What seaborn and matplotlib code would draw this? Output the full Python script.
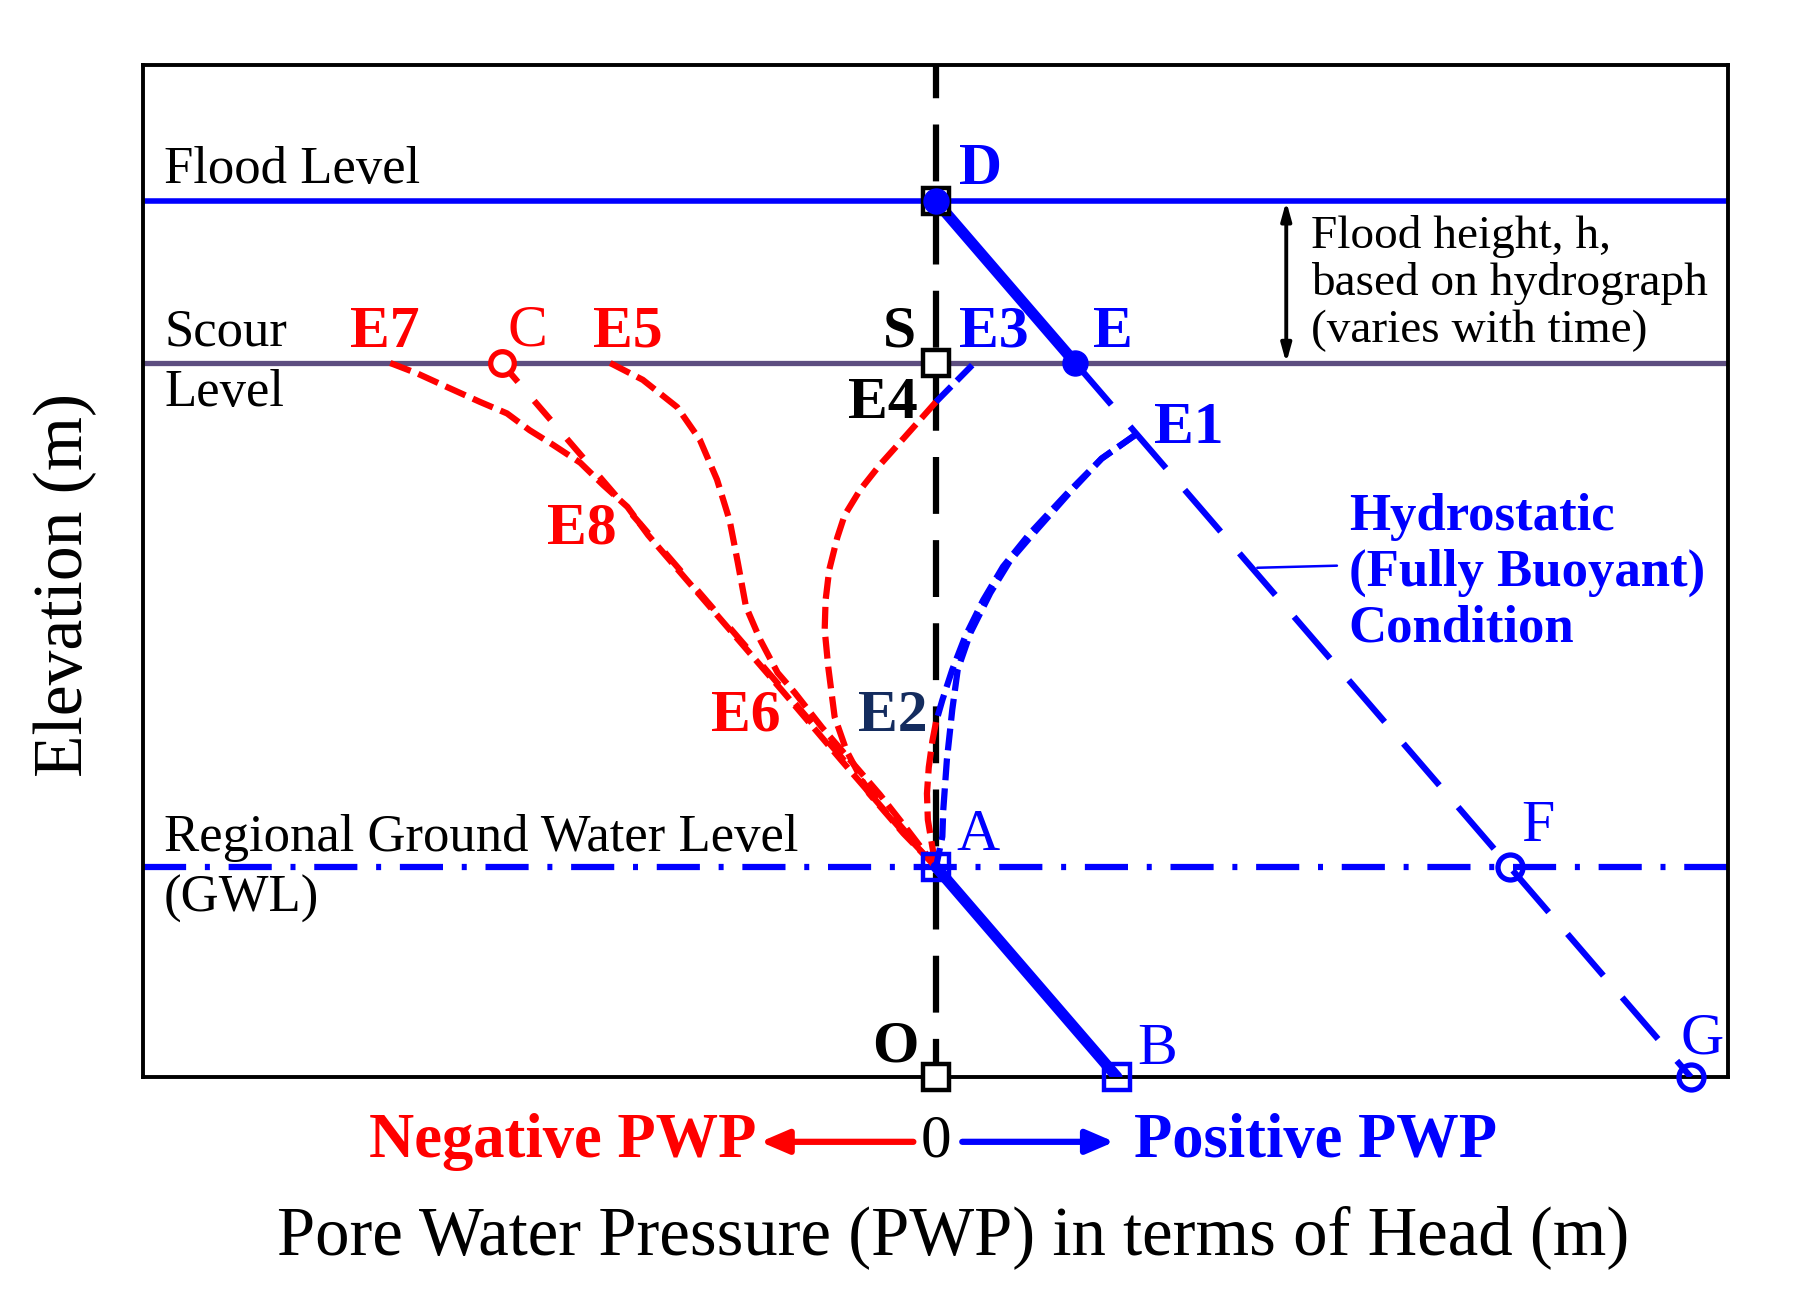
import numpy as np
import pandas as pd
import matplotlib
matplotlib.use('Agg')
import matplotlib.pyplot as plt
import seaborn as sns

# ---- levels (m) ----
flood_level = 8.34
scour_level = 6.8
gwl_level = 2.0

# ---- hydrostatic (fully buoyant) line: D - E - F - G ----
hydro_x = [0.0, 1.54, 6.34, 8.34]
hydro_y = [8.34, 6.8, 2.0, 0.0]

# ---- A - B (below GWL) ----
ab_x = [0.0, 2.0]
ab_y = [2.0, 0.0]

# ---- C - A (negative hydrostatic) ----
ca_x = [-4.8, 0.0]
ca_y = [6.8, 2.0]

# ---- PWP profiles ----
e1_x = [2.21, 1.83, 1.46, 1.07, 0.82, 0.60, 0.38, 0.24, 0.18, 0.12, 0.08, 0.07, 0.0]
e1_y = [6.12, 5.89, 5.55, 5.17, 4.92, 4.61, 4.23, 3.88, 3.50, 3.02, 2.54, 2.29, 2.0]

e2_blue_x = [2.21, 1.83, 1.44, 1.03, 0.74, 0.52, 0.32, 0.18, 0.07, 0.0]
e2_blue_y = [6.12, 5.89, 5.55, 5.17, 4.86, 4.54, 4.19, 3.88, 3.59, 3.38]
e2_red_x = [0.0, -0.04, -0.08, -0.10, -0.09, -0.04, 0.0]
e2_red_y = [3.38, 3.20, 2.95, 2.70, 2.45, 2.19, 2.0]

e3_x = [0.40, 0.0]
e3_y = [6.78, 6.43]

e4_x = [0.0, -0.34, -0.62, -0.84, -1.01, -1.09, -1.18, -1.22, -1.23, -1.19, -1.12, -0.99, -0.74, -0.36, 0.0]
e4_y = [6.43, 6.10, 5.83, 5.59, 5.35, 5.14, 4.83, 4.54, 4.26, 3.90, 3.43, 3.11, 2.70, 2.32, 2.0]

e5_x = [-3.60, -3.24, -2.86, -2.61, -2.42, -2.28, -2.19, -2.10, -1.94, -1.75, -1.56, -1.26, -0.95, -0.62, -0.31, 0.0]
e5_y = [6.8, 6.64, 6.38, 6.07, 5.69, 5.30, 4.90, 4.48, 4.16, 3.85, 3.66, 3.33, 3.02, 2.69, 2.35, 2.0]

e7_x = [-6.03, -5.73, -5.40, -5.04, -4.74, -4.49, -4.23, -3.93, -3.68, -3.41, -3.18, -2.94, -2.31, -1.68, -1.05, -0.38, 0.0]
e7_y = [6.8, 6.70, 6.57, 6.43, 6.32, 6.16, 6.02, 5.85, 5.64, 5.43, 5.16, 4.92, 4.29, 3.66, 3.02, 2.35, 2.0]

# ---- marked points ----
black_sq_x = [0.0, 0.0, 0.0]        # D, S, O
black_sq_y = [8.34, 6.8, 0.0]
blue_sq_x = [0.0, 2.0]              # A, B
blue_sq_y = [2.0, 0.0]
blue_dot_x = [0.0, 1.54]            # D, E
blue_dot_y = [8.34, 6.8]
blue_ring_x = [6.34, 8.34]          # F, G
blue_ring_y = [2.0, 0.0]
red_ring_x = [-4.8]                 # C
red_ring_y = [6.8]

BLUE = '#0000ff'
RED = '#ff0000'
NAVY = '#142c5e'
PURPLE = '#5d4e80'

sns.set_theme(style='white')
plt.rcParams['font.family'] = ['Liberation Serif', 'DejaVu Serif']
plt.rcParams['text.color'] = 'black'

fig = plt.figure(figsize=(18, 13), dpi=100)
ax = fig.add_axes([0.0797, 0.1715, 0.8803, 0.7785])


def curve(x, y, color, lw, dash, z=3):
    sns.lineplot(x=x, y=y, sort=False, estimator=None, color=color,
                 linewidth=lw, linestyle=(0, dash), ax=ax, zorder=z)


# reference levels
ax.axhline(flood_level, color=BLUE, lw=4.0, zorder=2)
ax.axhline(scour_level, color=PURPLE, lw=3.8, zorder=2)
ax.axhline(gwl_level, color=BLUE, lw=4.5, linestyle=(0, (6.9, 3.0, 0.8, 3.0)), zorder=2)
ax.axvline(0, color='black', lw=4.5, linestyle=(3, (9.1, 4.2)), zorder=2)

# hydrostatic
sns.lineplot(x=hydro_x[:2], y=hydro_y[:2], sort=False, estimator=None,
             color=BLUE, linewidth=8.0, ax=ax, zorder=4)
curve(hydro_x[1:], hydro_y[1:], BLUE, 4.5, (8.8, 4.6))
sns.lineplot(x=ab_x, y=ab_y, sort=False, estimator=None,
             color=BLUE, linewidth=8.0, ax=ax, zorder=4)

# profiles
curve(ca_x, ca_y, RED, 4.5, (4.0, 4.0))
curve(e7_x, e7_y, RED, 4.5, (3.5, 1.3))
curve(e5_x, e5_y, RED, 4.5, (3.5, 1.3))
curve(e4_x, e4_y, RED, 4.5, (3.5, 1.3))
curve(e2_red_x, e2_red_y, RED, 4.5, (3.5, 1.3))
curve(e1_x, e1_y, BLUE, 4.5, (3.5, 1.3))
curve(e2_blue_x, e2_blue_y, BLUE, 4.5, (3.5, 1.3))
curve(e3_x, e3_y, BLUE, 4.5, (3.5, 1.3))

# markers
mk = dict(linestyle='none', clip_on=False, zorder=6)
ax.plot(black_sq_x, black_sq_y, marker='s', ms=19, mfc='white', mec='black', mew=3.2, **mk)
ax.plot(blue_sq_x, blue_sq_y, marker='s', ms=19, mfc='none', mec=BLUE, mew=3.2, **mk)
ax.plot(blue_dot_x, blue_dot_y, marker='o', ms=18, mfc=BLUE, mec=BLUE, mew=1, **mk)
ax.plot(blue_ring_x, blue_ring_y, marker='o', ms=18, mfc='none', mec=BLUE, mew=3.8, **mk)
ax.plot(red_ring_x, red_ring_y, marker='o', ms=17, mfc='white', mec=RED, mew=3.8, **mk)

# point labels
pt_labels = [
    ('D', 0.25, 8.64, BLUE, 'bold', 'left'),
    ('E', 1.73, 7.09, BLUE, 'bold', 'left'),
    ('E1', 2.41, 6.17, BLUE, 'bold', 'left'),
    ('E3', 0.25, 7.09, BLUE, 'bold', 'left'),
    ('S', -0.22, 7.09, 'black', 'bold', 'right'),
    ('E4', -0.20, 6.41, 'black', 'bold', 'right'),
    ('E7', -6.09, 7.09, RED, 'bold', 'center'),
    ('C', -4.51, 7.10, RED, 'normal', 'center'),
    ('E5', -3.40, 7.09, RED, 'bold', 'center'),
    ('E8', -3.91, 5.21, RED, 'bold', 'center'),
    ('E6', -2.10, 3.43, RED, 'bold', 'center'),
    ('E2', -0.48, 3.43, NAVY, 'bold', 'center'),
    ('A', 0.22, 2.30, BLUE, 'normal', 'left'),
    ('F', 6.65, 2.38, BLUE, 'normal', 'center'),
    ('G', 8.46, 0.36, BLUE, 'normal', 'center'),
    ('B', 2.44, 0.26, BLUE, 'normal', 'center'),
    ('O', -0.45, 0.28, 'black', 'bold', 'center'),
]
for s, x, y, c, w, ha in pt_labels:
    ax.text(x, y, s, color=c, fontsize=43, fontweight=w, ha=ha, va='center', zorder=7)

# level names
ax.text(-8.53, 8.64, 'Flood Level', fontsize=38, ha='left', va='center')
ax.text(-8.53, 7.09, 'Scour', fontsize=38, ha='left', va='center')
ax.text(-8.53, 6.51, 'Level', fontsize=38, ha='left', va='center')
ax.text(-8.53, 2.28, 'Regional Ground Water Level', fontsize=38, ha='left', va='center')
ax.text(-8.53, 1.70, '(GWL)', fontsize=38, ha='left', va='center')

# flood height
ax.annotate('', xy=(3.87, flood_level), xytext=(3.87, scour_level),
            arrowprops=dict(arrowstyle='<|-|>,head_length=0.9,head_width=0.25',
                            color='black', lw=2.8, shrinkA=0, shrinkB=0))
ax.text(4.14, 7.56, 'Flood height, h,\nbased on hydrograph\n(varies with time)',
        fontsize=34, ha='left', va='center', linespacing=1.13)

# hydrostatic note
ax.plot([3.55, 4.43], [4.85, 4.87], color=BLUE, lw=1.8)
ax.text(4.56, 4.80, 'Hydrostatic\n(Fully Buoyant)\nCondition', color=BLUE,
        fontsize=38, fontweight='bold', ha='left', va='center', linespacing=1.2)

ax.set_xlim(-8.757, 8.751)
ax.set_ylim(0, 9.638)
ax.set_xticks([])
ax.set_yticks([])
ax.set_xlabel('')
ax.set_ylabel('')
for sp in ax.spines.values():
    sp.set_visible(True)
    sp.set_color('black')
    sp.set_linewidth(2.8)

# below-axis annotations
tr = ax.get_xaxis_transform()
ax.text(0, -0.064, '0', transform=tr, fontsize=44, ha='center', va='center')
ax.annotate('', xy=(-1.94, -0.064), xytext=(-0.25, -0.064), xycoords=tr, textcoords=tr,
            arrowprops=dict(arrowstyle='-|>,head_length=1.4,head_width=0.6',
                            color=RED, lw=4.5, shrinkA=0, shrinkB=0))
ax.annotate('', xy=(1.97, -0.064), xytext=(0.29, -0.064), xycoords=tr, textcoords=tr,
            arrowprops=dict(arrowstyle='-|>,head_length=1.4,head_width=0.6',
                            color=BLUE, lw=4.5, shrinkA=0, shrinkB=0))
ax.text(-1.98, -0.064, 'Negative PWP', transform=tr, color=RED, fontsize=45,
        fontweight='bold', ha='right', va='center')
ax.text(2.19, -0.064, 'Positive PWP', transform=tr, color=BLUE, fontsize=45,
        fontweight='bold', ha='left', va='center')
ax.text(0.511, -0.158, 'Pore Water Pressure (PWP) in terms of Head (m)',
        transform=ax.transAxes, fontsize=49.5, ha='center', va='center')
ax.text(-0.049, 0.486, 'Elevation (m)', transform=ax.transAxes, fontsize=50,
        rotation=90, ha='center', va='center')

fig.savefig('out.png', dpi=100, facecolor='white')
